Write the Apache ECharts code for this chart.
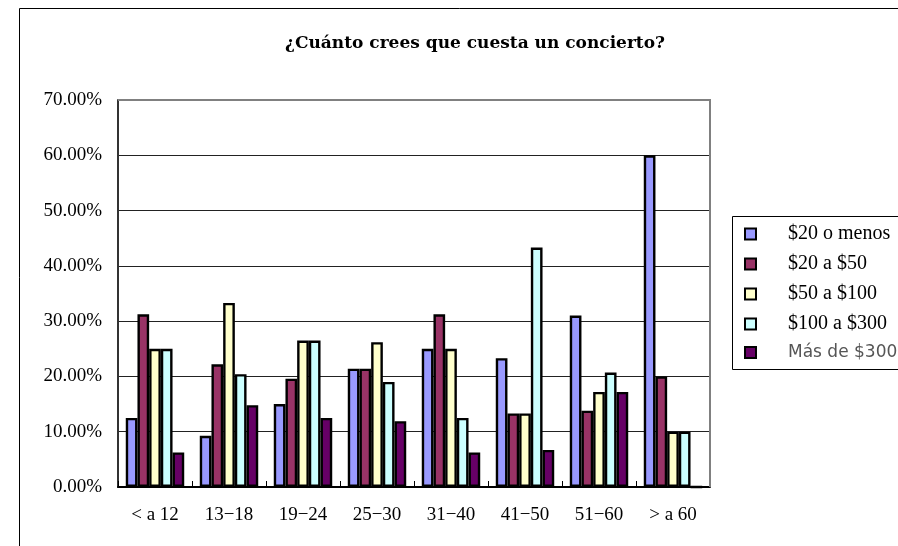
<!DOCTYPE html>
<html><head><meta charset="utf-8">
<script src="https://cdn.jsdelivr.net/npm/echarts@6/dist/echarts.min.js"></script>
<style>html,body{margin:0;padding:0;background:#fff}#c{width:898px;height:546px}</style>
</head><body><div id="c"></div>
<script>
var categories = ['< a 12', '13\u221218', '19\u221224', '25\u221230', '31\u221240', '41\u221250', '51\u221260', '> a 60'];
var seriesNames = ['$20 o menos', '$20 a $50', '$50 a $100', '$100 a $300', 'M\u00e1s de $300'];
var s20oMenos   = [12.5, 9.26, 15.0, 21.4, 25.0, 23.3, 31.0, 60.0];
var s20a50      = [31.25, 22.2, 19.6, 21.4, 31.25, 13.3, 13.8, 20.0];
var s50a100     = [25.0, 33.3, 26.5, 26.2, 25.0, 13.3, 17.2, 10.0];
var s100a300    = [25.0, 20.4, 26.5, 19.0, 12.5, 43.3, 20.7, 10.0];
var sMas300     = [6.25, 14.8, 12.5, 11.9, 6.25, 6.7, 17.2, 0];
var yTicks = [0, 10, 20, 30, 40, 50, 60, 70];

var colors = ['#9999FF', '#993366', '#FFFFCC', '#CCFFFF', '#660066'];
var values = [s20oMenos, s20a50, s50a100, s100a300, sMas300];
var FONT = 'Liberation Serif';

var chart = echarts.init(document.getElementById('c'), null, {renderer: 'canvas'});
var series = seriesNames.map(function (n, i) {
  return {
    name: n, type: 'bar', data: values[i],
    barGap: '0%', barCategoryGap: '21%',
    itemStyle: {color: colors[i], borderColor: '#000', borderWidth: 2.4},
    emphasis: {disabled: true}
  };
});
chart.setOption({
  animation: false,
  backgroundColor: '#fff',
  title: {
    text: '\u00bfCu\u00e1nto crees que cuesta un concierto?',
    left: 470, top: 30, textAlign: 'center',
    textStyle: {fontFamily: 'DejaVu Serif', fontWeight: 'bold', fontSize: 17, color: '#000'}
  },
  graphic: [
    {type: 'rect', shape: {x: 19.5, y: 8.5, width: 1000, height: 1000}, style: {fill: 'none', stroke: '#000', lineWidth: 1}, silent: true, z: -1},
    {type: 'rect', shape: {x: 732.5, y: 216.5, width: 300, height: 153}, style: {fill: '#fff', stroke: '#000', lineWidth: 1}, silent: true, z: -1},
    {type: 'polyline', shape: {points: [[118, 100], [710, 100], [710, 487]]}, style: {stroke: '#808080', lineWidth: 2, fill: 'none'}, silent: true, z: 1}
  ],
  legend: {
    orient: 'vertical', left: 739, top: 219,
    itemWidth: 11, itemHeight: 11, itemGap: 10,
    icon: 'rect',
    selectedMode: false,
    itemStyle: {borderColor: '#000', borderWidth: 2},
    textStyle: {fontFamily: FONT, fontSize: 20, color: '#000', padding: [0, 0, 0, 27]},
    data: seriesNames.map(function (n, i) {
      if (i === 4) return {name: n, textStyle: {color: '#555', fontFamily: 'DejaVu Sans', fontSize: 17}};
      return {name: n};
    })
  },
  grid: {left: 118, top: 100, width: 592, height: 387, containLabel: false},
  xAxis: {
    type: 'category', data: categories,
    axisLine: {lineStyle: {color: '#000', width: 2}},
    axisTick: {show: true, inside: true, length: 6, lineStyle: {color: '#000', width: 1}},
    axisLabel: {fontFamily: FONT, fontSize: 19, color: '#000', margin: 19},
    splitLine: {show: false}
  },
  yAxis: {
    type: 'value', min: 0, max: 70, interval: 10,
    axisLine: {show: true, lineStyle: {color: '#333', width: 2}},
    axisTick: {show: false},
    axisLabel: {fontFamily: FONT, fontSize: 19, color: '#000', margin: 16,
      formatter: function (v) { return v.toFixed(2) + '%'; }},
    splitLine: {show: true, lineStyle: {color: '#222', width: 1}}
  },
  series: series
});
</script></body></html>
